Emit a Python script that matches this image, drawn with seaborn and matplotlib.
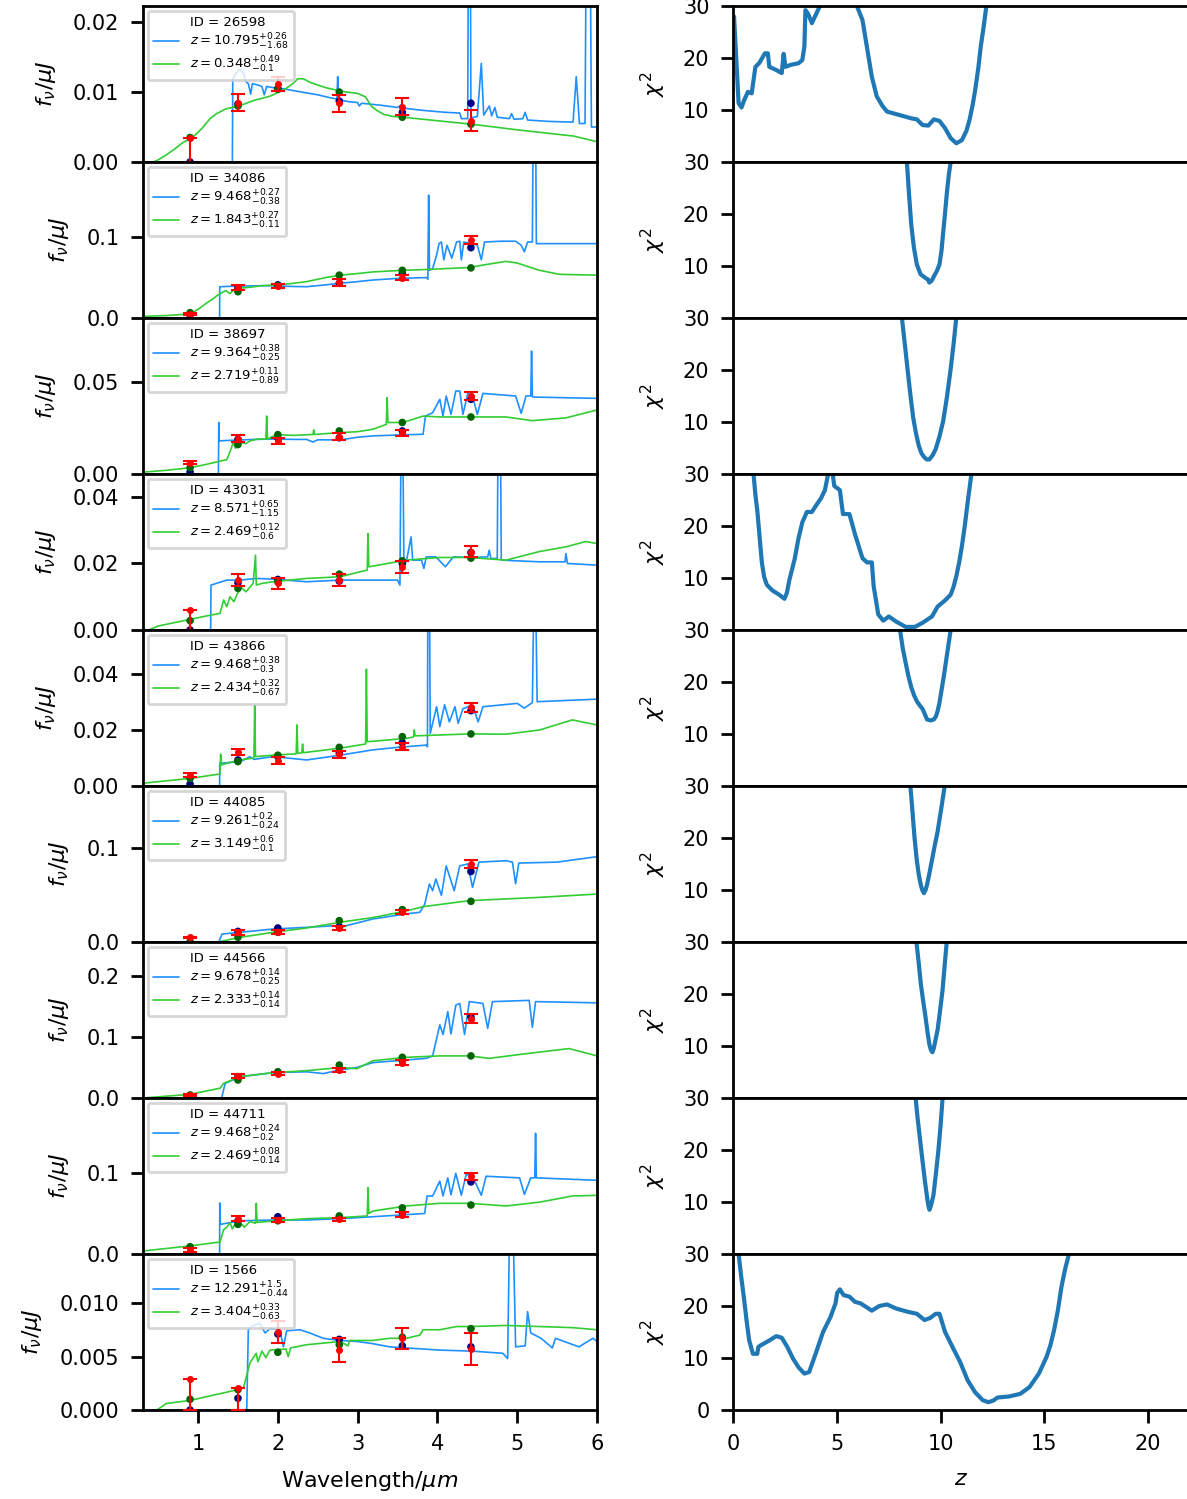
import matplotlib
matplotlib.use("Agg")
import matplotlib.pyplot as plt
import seaborn as sns
import pandas as pd
from matplotlib.lines import Line2D

# ---------------- data ----------------
IDS = ["26598", "34086", "38697", "43031", "43866", "44085", "44566", "44711", "1566"]
FILTER_WAVE = [0.90, 1.50, 2.00, 2.77, 3.56, 4.42]

Z_BLUE_LABEL = [r"$z=10.795^{+0.26}_{-1.68}$", r"$z=9.468^{+0.27}_{-0.38}$", r"$z=9.364^{+0.38}_{-0.25}$",
                r"$z=8.571^{+0.65}_{-1.15}$", r"$z=9.468^{+0.38}_{-0.3}$", r"$z=9.261^{+0.2}_{-0.24}$",
                r"$z=9.678^{+0.14}_{-0.25}$", r"$z=9.468^{+0.24}_{-0.2}$", r"$z=12.291^{+1.5}_{-0.44}$"]
Z_GREEN_LABEL = [r"$z=0.348^{+0.49}_{-0.1}$", r"$z=1.843^{+0.27}_{-0.11}$", r"$z=2.719^{+0.11}_{-0.89}$",
                 r"$z=2.469^{+0.12}_{-0.6}$", r"$z=2.434^{+0.32}_{-0.67}$", r"$z=3.149^{+0.6}_{-0.1}$",
                 r"$z=2.333^{+0.14}_{-0.14}$", r"$z=2.469^{+0.08}_{-0.14}$", r"$z=3.404^{+0.33}_{-0.63}$"]

YLIM_TOP = [0.0223, 0.193, 0.0848, 0.0469, 0.0557, 0.166, 0.2557, 0.1926, 0.01458]
YTICKS = [[0, 0.01, 0.02], [0, 0.1], [0, 0.05], [0, 0.02, 0.04], [0, 0.02, 0.04],
          [0, 0.1], [0, 0.1, 0.2], [0, 0.1], [0, 0.005, 0.010]]
YTICK_FMT = ["{:.2f}", "{:.1f}", "{:.2f}", "{:.2f}", "{:.2f}", "{:.1f}", "{:.1f}", "{:.1f}", "{:.3f}"]

# observed photometry (value, lower error, upper error), model photometry (blue / green fits)
OBS = [[0.0035, 0.0085, 0.0112, 0.0084, 0.0079, 0.0059],
       [0.005, 0.038, 0.0395, 0.044, 0.050, 0.097],
       [0.0062, 0.0192, 0.018, 0.0203, 0.0221, 0.0424],
       [0.006, 0.015, 0.014, 0.015, 0.019, 0.0236],
       [0.0039, 0.0121, 0.009, 0.0113, 0.014, 0.0281],
       [0.005, 0.0103, 0.011, 0.0149, 0.0316, 0.083],
       [0.005, 0.036, 0.040, 0.046, 0.058, 0.13],
       [0.005, 0.0436, 0.042, 0.0428, 0.0486, 0.096],
       [0.0029, 0.0021, 0.0073, 0.0056, 0.0067, 0.0057]]
ERR_LO = [[0.0035, 0.00125, 0.0010, 0.0012, 0.0012, 0.0015],
          [0.0015, 0.003, 0.003, 0.004, 0.003, 0.005],
          [0.0009, 0.0018, 0.0017, 0.0018, 0.0017, 0.0022],
          [0.006, 0.0018, 0.0017, 0.0017, 0.0018, 0.0016],
          [0.0006, 0.0012, 0.0012, 0.0012, 0.0013, 0.0015],
          [0.0008, 0.0025, 0.002, 0.002, 0.002, 0.0043],
          [0.002, 0.003, 0.003, 0.003, 0.004, 0.007],
          [0.002, 0.003, 0.002, 0.002, 0.003, 0.0045],
          [0.0029, 0.0021, 0.001, 0.0011, 0.001, 0.0015]]
ERR_HI = [[0.0, 0.00125, 0.0010, 0.0012, 0.0012, 0.0015],
          [0.0015, 0.003, 0.003, 0.004, 0.003, 0.005],
          [0.0009, 0.0018, 0.0017, 0.0018, 0.0017, 0.0022],
          [0.0, 0.0018, 0.0017, 0.0017, 0.0018, 0.0016],
          [0.0006, 0.0012, 0.0012, 0.0012, 0.0013, 0.0015],
          [0.0008, 0.0025, 0.002, 0.002, 0.002, 0.0043],
          [0.002, 0.003, 0.003, 0.003, 0.004, 0.007],
          [0.002, 0.003, 0.002, 0.002, 0.003, 0.0045],
          [0.0, 0.0, 0.001, 0.0011, 0.001, 0.0015]]
MOD_BLUE = [[0.0, 0.0083, 0.0105, 0.0087, 0.0071, 0.0084],
            [0.0, 0.037, 0.041, 0.043, 0.055, 0.087],
            [0.0011, 0.0188, 0.0196, 0.0197, 0.0234, 0.0406],
            [0.0, 0.0142, 0.0152, 0.0147, 0.020, 0.0233],
            [0.0007, 0.0093, 0.0105, 0.0117, 0.0155, 0.0269],
            [0.0, 0.0113, 0.0149, 0.0163, 0.034, 0.075],
            [0.0, 0.035, 0.0415, 0.047, 0.062, 0.133],
            [0.0, 0.041, 0.046, 0.0449, 0.051, 0.089],
            [0.0, 0.0011, 0.0071, 0.0066, 0.006, 0.0059]]
MOD_GREEN = [[0.0035, 0.0080, 0.0104, 0.0100, 0.0064, 0.0054],
             [0.0066, 0.0325, 0.040, 0.053, 0.059, 0.062],
             [0.0034, 0.016, 0.0214, 0.0234, 0.028, 0.031],
             [0.0028, 0.0125, 0.0145, 0.0168, 0.0208, 0.0216],
             [0.0027, 0.0087, 0.011, 0.0138, 0.0176, 0.0186],
             [0.0, 0.005, 0.0103, 0.0227, 0.0344, 0.0433],
             [0.005, 0.0295, 0.043, 0.054, 0.0667, 0.069],
             [0.009, 0.0366, 0.041, 0.047, 0.057, 0.0605],
             [0.001, 0.0019, 0.0054, 0.0061, 0.0068, 0.0076]]

# model spectra: (wavelength um, flux)
BLUE_26598 = [(0.31,0),(1.43,0),(1.435,0.0118),(1.47,0.0126),(1.52,0.0132),(1.57,0.0127),(1.6,0.0115),(1.63,0.0112),
              (1.66,0.0097),(1.68,0.0112),(1.75,0.0110),(1.80,0.0108),(1.83,0.0096),(1.86,0.0108),(1.95,0.0106),
              (2.05,0.0105),(2.2,0.0102),(2.35,0.0099),(2.5,0.0096),(2.65,0.0092),(2.74,0.0090),(2.75,0.0122),
              (2.76,0.0089),(2.9,0.0086),(3.0,0.0085),(3.02,0.0080),(3.05,0.0084),(3.3,0.0081),(3.5,0.0078),
              (3.55,0.0082),(3.57,0.0077),(3.8,0.0074),(4.1,0.0071),(4.28,0.0070),(4.3,0.0062),(4.38,0.0062),
              (4.39,0.04),(4.41,0.04),(4.42,0.0063),(4.5,0.0065),(4.55,0.0141),(4.58,0.0067),(4.65,0.0080),
              (4.68,0.0066),(4.72,0.0078),(4.75,0.0064),(4.9,0.0062),(4.93,0.0069),(4.96,0.0061),(5.07,0.0062),
              (5.1,0.0071),(5.13,0.0060),(5.4,0.0058),(5.7,0.0057),(5.74,0.0122),(5.78,0.0055),(5.85,0.0055),
              (5.87,0.04),(5.91,0.04),(5.93,0.0050),(6.0,0.0050)]
GREEN_26598 = [(0.44,0),(0.5,0.0003),(0.6,0.0010),(0.7,0.0018),(0.8,0.0027),(0.94,0.0036),(1.05,0.0048),(1.15,0.0062),
               (1.23,0.0069),(1.35,0.0076),(1.51,0.0080),(1.7,0.0088),(1.9,0.0094),(2.09,0.0104),(2.2,0.0113),
               (2.25,0.0119),(2.32,0.0119),(2.4,0.0114),(2.5,0.0110),(2.61,0.0106),(2.8,0.0101),(3.0,0.0098),
               (3.1,0.0093),(3.17,0.0080),(3.25,0.0073),(3.33,0.0068),(3.45,0.0065),(3.57,0.0064),(4.0,0.0059),
               (4.43,0.0054),(5.0,0.0046),(5.71,0.0037),(6.0,0.0029)]
BLUE_34086 = [(0.31,0),(1.27,0),(1.272,0.0387),(1.4,0.0392),(1.53,0.0395),(1.7,0.0398),(1.86,0.040),(2.0,0.0395),
              (2.2,0.039),(2.36,0.0387),(2.6,0.041),(2.78,0.043),(3.0,0.045),(3.19,0.047),(3.5,0.049),(3.86,0.050),
              (3.88,0.048),(3.89,0.152),(3.9,0.059),(3.94,0.061),(3.99,0.078),(4.02,0.092),(4.05,0.094),(4.08,0.072),
              (4.12,0.090),(4.18,0.074),(4.24,0.094),(4.28,0.095),(4.3,0.072),(4.33,0.094),(4.44,0.092),(4.5,0.090),
              (4.55,0.072),(4.59,0.094),(4.8,0.095),(4.98,0.095),(5.05,0.090),(5.09,0.082),(5.13,0.094),(5.19,0.094),
              (5.2,0.25),(5.23,0.25),(5.24,0.092),(5.5,0.092),(6.0,0.092)]
GREEN_34086 = [(0.31,0.002),(0.6,0.003),(0.9,0.005),(1.02,0.012),(1.1,0.018),(1.19,0.024),(1.27,0.030),(1.35,0.034),
               (1.4,0.030),(1.45,0.035),(1.53,0.037),(1.65,0.038),(1.8,0.040),(2.03,0.041),(2.2,0.043),(2.36,0.045),
               (2.6,0.050),(2.78,0.053),(3.0,0.055),(3.19,0.057),(3.57,0.059),(3.86,0.060),(4.4,0.0625),(4.6,0.066),
               (4.86,0.070),(5.0,0.068),(5.28,0.059),(5.53,0.054),(6.0,0.053)]
BLUE_38697 = [(0.31,0),(1.255,0),(1.26,0.028),(1.265,0.018),(1.35,0.0182),(1.53,0.0185),(1.7,0.0188),(1.94,0.019),
              (2.2,0.0188),(2.36,0.0188),(2.44,0.0174),(2.5,0.0186),(2.78,0.0185),(3.0,0.020),(3.19,0.0207),
              (3.5,0.0212),(3.82,0.0216),(3.85,0.0315),(3.94,0.0333),(4.03,0.0406),(4.07,0.0315),(4.11,0.0424),
              (4.17,0.0324),(4.23,0.0451),(4.28,0.0451),(4.32,0.0324),(4.38,0.0438),(4.44,0.0424),(4.50,0.0324),
              (4.57,0.0438),(4.98,0.0424),(5.05,0.033),(5.11,0.0424),(5.17,0.0424),(5.18,0.0668),(5.19,0.0420),
              (5.23,0.0418),(6.0,0.0411)]
GREEN_38697 = [(0.31,0.001),(0.6,0.002),(0.9,0.0034),(1.1,0.0052),(1.275,0.007),(1.36,0.0078),(1.40,0.012),(1.44,0.017),
               (1.47,0.014),(1.5,0.0174),(1.6,0.0165),(1.65,0.0180),(1.75,0.019),(1.85,0.019),(1.86,0.0315),(1.87,0.019),
               (1.98,0.0214),(2.2,0.021),(2.44,0.0215),(2.45,0.024),(2.46,0.0215),(2.78,0.0225),(3.0,0.023),
               (3.19,0.0243),(3.3,0.026),(3.36,0.027),(3.37,0.0415),(3.38,0.028),(3.57,0.028),(3.82,0.0315),
               (4.03,0.031),(4.4,0.031),(4.86,0.031),(5.19,0.029),(5.61,0.0305),(6.0,0.0348)]
BLUE_43031 = [(0.31,0),(1.158,0),(1.162,0.0135),(1.36,0.015),(1.53,0.015),(1.73,0.0155),(1.94,0.0153),(2.36,0.0145),
              (2.78,0.015),(3.2,0.015),(3.5,0.015),(3.53,0.0135),(3.545,0.06),(3.565,0.06),(3.58,0.020),(3.61,0.0205),
              (3.67,0.028),(3.69,0.021),(3.8,0.021),(3.83,0.0185),(3.86,0.022),(3.98,0.022),(4.1,0.019),(4.2,0.022),
              (4.44,0.0218),(4.63,0.022),(4.65,0.024),(4.67,0.0215),(4.75,0.0215),(4.76,0.06),(4.79,0.06),(4.8,0.021),
              (5.28,0.0205),(5.60,0.0205),(5.61,0.023),(5.63,0.020),(6.0,0.0195)]
GREEN_43031 = [(0.38,0.0),(0.5,0.0012),(0.9,0.0032),(1.1,0.0042),(1.275,0.005),(1.32,0.009),(1.36,0.007),(1.40,0.010),
               (1.45,0.0085),(1.53,0.013),(1.6,0.0115),(1.69,0.014),(1.72,0.0225),(1.73,0.0135),(1.8,0.014),
               (1.94,0.0145),(2.36,0.0155),(2.78,0.016),(3.03,0.0175),(3.12,0.018),(3.13,0.029),(3.14,0.019),
               (3.61,0.021),(4.03,0.0218),(4.4,0.0218),(4.86,0.021),(5.28,0.0236),(5.61,0.025),(5.86,0.0266),(6.0,0.026)]
BLUE_43866 = [(0.31,0),(1.27,0),(1.272,0.0081),(1.53,0.0087),(1.65,0.0105),(1.7,0.0095),(1.94,0.0105),(2.36,0.0093),
              (2.78,0.011),(3.19,0.0129),(3.5,0.0138),(3.86,0.0146),(3.875,0.014),(3.88,0.07),(3.90,0.07),(3.91,0.0188),
              (3.99,0.0283),(4.03,0.0212),(4.09,0.029),(4.15,0.0229),(4.22,0.0283),(4.26,0.0224),(4.32,0.0276),
              (4.44,0.0289),(4.51,0.0229),(4.57,0.0283),(5.0,0.0295),(5.09,0.0278),(5.19,0.0298),(5.21,0.07),
              (5.23,0.07),(5.25,0.0301),(6.0,0.031)]
GREEN_43866 = [(0.31,0.001),(0.9,0.0027),(1.275,0.0043),(1.283,0.0114),(1.29,0.0075),(1.36,0.0081),(1.53,0.0093),
               (1.70,0.010),(1.71,0.029),(1.72,0.0105),(1.94,0.011),(2.23,0.0115),(2.24,0.0218),(2.25,0.0117),
               (2.30,0.0118),(2.31,0.0150),(2.32,0.0119),(2.78,0.0135),(3.1,0.0150),(3.11,0.0417),(3.12,0.0158),
               (3.61,0.017),(3.70,0.0175),(3.71,0.020),(3.72,0.0179),(4.4,0.0186),(4.86,0.0185),(5.28,0.020),
               (5.69,0.0236),(6.0,0.0218)]
BLUE_44085 = [(0.31,0),(1.26,0),(1.3,0.0085),(1.53,0.0103),(1.94,0.0138),(2.36,0.0156),(2.73,0.0174),(2.78,0.0149),
              (2.86,0.0174),(3.19,0.0245),(3.61,0.030),(3.78,0.0316),(3.84,0.040),(3.9,0.0617),(3.94,0.0546),
              (3.98,0.0670),(4.05,0.0496),(4.11,0.081),(4.21,0.0546),(4.28,0.081),(4.38,0.083),(4.44,0.0581),
              (4.52,0.085),(4.86,0.0865),(4.94,0.085),(4.98,0.062),(5.02,0.0840),(5.5,0.085),(6.0,0.0908)]
GREEN_44085 = [(0.31,0),(1.25,0),(1.53,0.005),(1.94,0.0103),(2.36,0.0149),(2.78,0.021),(3.19,0.026),(3.61,0.033),
               (3.82,0.0376),(4.4,0.044),(5.28,0.0475),(6.0,0.051)]
BLUE_44566 = [(0.31,0),(1.295,0),(1.34,0.024),(1.53,0.035),(1.94,0.0415),(2.36,0.043),(2.57,0.040),(2.78,0.046),
              (2.99,0.050),(3.19,0.058),(3.86,0.065),(3.94,0.069),(4.03,0.12),(4.07,0.104),(4.13,0.1415),(4.17,0.105),
              (4.23,0.152),(4.28,0.155),(4.34,0.104),(4.40,0.158),(4.57,0.155),(4.63,0.114),(4.69,0.158),(5.15,0.16),
              (5.19,0.116),(5.23,0.158),(6.0,0.156)]
GREEN_44566 = [(0.31,0),(0.9,0.006),(1.275,0.016),(1.32,0.024),(1.53,0.035),(1.94,0.0415),(2.36,0.0448),(2.78,0.050),
               (2.99,0.048),(3.19,0.061),(3.61,0.0667),(4.03,0.069),(4.4,0.069),(4.65,0.065),(5.07,0.072),(5.65,0.081),
               (6.0,0.069)]
BLUE_44711 = [(0.31,0),(1.27,0),(1.272,0.063),(1.28,0.0366),(1.53,0.041),(1.94,0.042),(2.36,0.042),(2.78,0.0436),
              (3.19,0.046),(3.84,0.050),(3.87,0.0716),(3.94,0.0716),(4.03,0.090),(4.07,0.0716),(4.13,0.094),
              (4.17,0.073),(4.23,0.0996),(4.30,0.0725),(4.36,0.0984),(4.44,0.096),(4.55,0.0725),(4.61,0.096),
              (5.03,0.094),(5.09,0.0736),(5.17,0.094),(5.22,0.094),(5.23,0.149),(5.24,0.094),(6.0,0.091)]
GREEN_44711 = [(0.31,0.0037),(0.9,0.010),(1.275,0.0148),(1.32,0.030),(1.36,0.033),(1.40,0.0387),(1.43,0.031),
               (1.47,0.038),(1.53,0.0387),(1.58,0.033),(1.65,0.040),(1.72,0.038),(1.73,0.0626),(1.74,0.039),
               (1.94,0.0407),(2.36,0.0436),(2.78,0.0449),(3.12,0.047),(3.13,0.082),(3.14,0.050),(3.19,0.053),
               (3.61,0.0593),(4.03,0.0626),(4.4,0.0626),(4.86,0.0593),(5.28,0.064),(5.69,0.0716),(6.0,0.0724)]
BLUE_1566 = [(0.31,0),(1.61,0),(1.63,0.0075),(1.69,0.0079),(1.775,0.0081),(1.84,0.0072),(1.9,0.0076),(2.025,0.0075),
             (2.07,0.0059),(2.11,0.0074),(2.275,0.0075),(2.4,0.0072),(2.57,0.0067),(2.78,0.0065),(3.0,0.0064),
             (3.19,0.0062),(3.4,0.0059),(3.61,0.0058),(4.03,0.0056),(4.44,0.0055),(4.82,0.0053),(4.88,0.0048),
             (4.91,0.02),(4.94,0.02),(4.98,0.0059),(5.1,0.0060),(5.13,0.0092),(5.17,0.0072),(5.3,0.0067),
             (5.44,0.0058),(5.48,0.0067),(5.775,0.0059),(5.86,0.0063),(5.95,0.0067),(6.0,0.0064)]
GREEN_1566 = [(0.48,0),(0.525,0.0002),(0.6,0.0006),(0.9,0.0009),(1.32,0.0016),(1.49,0.0019),(1.57,0.0021),(1.65,0.0044),
              (1.73,0.0053),(1.75,0.0045),(1.8,0.0055),(1.85,0.0049),(1.9,0.0056),(2.1,0.0057),(2.13,0.0050),
              (2.16,0.0058),(2.36,0.0061),(2.78,0.0064),(2.88,0.0060),(2.9,0.0065),(3.19,0.0065),(3.4,0.0067),
              (3.61,0.0067),(3.78,0.0070),(3.82,0.0075),(4.03,0.0075),(4.24,0.0078),(4.4,0.0078),(4.86,0.0079),
              (5.28,0.0078),(5.69,0.0077),(6.0,0.0075)]

# chi^2 vs redshift curves: (z, chi2)
CHI_26598 = [(0.05,28),(0.27,11.3),(0.41,10.5),(0.54,11.9),(0.72,13.5),(0.90,13.2),(1.08,18.3),(1.26,19.0),(1.54,20.9),
             (1.68,20.9),(1.75,18.3),(2.08,17.7),(2.35,17.1),(2.44,20.8),(2.53,18.3),(2.80,18.7),(3.16,19.0),
             (3.34,19.6),(3.44,22.2),(3.49,29.2),(3.62,28.5),(3.80,26.7),(4.07,29.0),(4.25,30.5),(4.8,38),(5.5,38),
             (5.97,30.0),(6.24,27.3),(6.5,21.0),(6.69,16.4),(6.93,12.6),(7.2,10.8),(7.42,9.7),(8.05,9.0),(8.59,8.4),
             (8.86,8.2),(9.14,7.1),(9.41,7.0),(9.68,8.2),(9.95,7.9),(10.22,6.5),(10.49,4.6),(10.76,3.6),(11.03,4.2),
             (11.25,6.0),(11.40,8.1),(11.55,11.0),(11.67,13.8),(11.82,18.0),(11.94,22.2),(12.08,26.0),(12.21,30.0),(12.4,36)]
CHI_34086 = [(8.2,38),(8.38,30),(8.48,24.0),(8.59,18.0),(8.72,13.5),(8.86,10.3),(9.04,8.4),(9.31,7.6),(9.40,7.4),
             (9.46,6.8),(9.58,7.2),(9.68,8.0),(9.82,9.0),(9.95,10.3),(10.05,13.0),(10.13,16.5),(10.22,20.2),
             (10.31,24.2),(10.40,27.5),(10.49,30),(10.6,38)]
CHI_38697 = [(8.0,38),(8.14,30),(8.28,25.0),(8.41,20.2),(8.55,15.2),(8.68,10.9),(8.82,7.8),(8.95,5.5),(9.08,4.0),
             (9.22,3.2),(9.34,2.8),(9.46,2.8),(9.62,3.6),(9.77,4.8),(9.95,7.2),(10.13,10.2),(10.31,14.8),(10.49,20.2),
             (10.63,25.0),(10.76,30),(10.9,38)]
CHI_43031 = [(0.9,38),(0.99,30),(1.08,26.0),(1.17,23.0),(1.28,18.0),(1.39,13.0),(1.50,10.2),(1.63,8.7),(1.90,7.6),
             (2.22,6.8),(2.48,6.0),(2.60,7.2),(2.71,9.5),(2.98,13.8),(3.15,17.5),(3.34,20.7),(3.56,22.7),(3.80,22.7),
             (3.98,23.8),(4.25,25.4),(4.43,26.9),(4.61,30.5),(4.79,30.5),(4.88,27.7),(5.15,26.9),(5.30,22.3),
             (5.61,22.3),(5.88,18.4),(6.24,13.8),(6.46,13.0),(6.69,13.0),(6.78,8.4),(7.00,3.0),(7.24,1.8),(7.51,2.6),
             (7.87,1.6),(8.32,0.6),(8.77,0.6),(9.14,1.4),(9.59,2.6),(9.86,4.5),(10.22,5.7),(10.49,6.8),(10.62,8.2),
             (10.76,10.3),(10.90,13.0),(11.03,16.1),(11.17,20.0),(11.31,24.6),(11.49,30),(11.6,38)]
CHI_43866 = [(7.9,38),(8.05,30),(8.18,26.5),(8.32,23.7),(8.45,21.2),(8.59,19.0),(8.72,17.5),(8.86,16.3),(9.0,15.5),
             (9.14,14.8),(9.35,12.8),(9.52,12.6),(9.68,12.8),(9.78,13.4),(9.86,14.4),(9.95,16.0),(10.04,18.2),
             (10.18,21.6),(10.31,25.2),(10.49,30),(10.6,38)]
CHI_44085 = [(8.4,38),(8.55,30),(8.65,25),(8.75,20),(8.85,16),(8.95,13),(9.05,11.0),(9.12,10.0),(9.2,9.4),(9.28,10.0),
             (9.35,11),(9.47,13.3),(9.6,16),(9.72,18.5),(9.85,21),(9.95,23.5),(10.05,26),(10.2,30),(10.3,38)]
CHI_44566 = [(8.7,38),(8.84,30),(8.95,26),(9.05,22),(9.17,18.5),(9.28,15.5),(9.38,12.5),(9.47,10.2),(9.54,9.2),
             (9.61,8.8),(9.68,9.6),(9.76,11.2),(9.86,13.1),(9.97,16.5),(10.1,20.8),(10.2,25.5),(10.3,30),(10.4,38)]
CHI_44711 = [(8.6,38),(8.8,30),(8.9,26),(9.0,22.5),(9.13,18),(9.25,14.0),(9.37,10.4),(9.42,9.2),(9.47,8.5),(9.54,9.3),
             (9.66,11.3),(9.78,15.5),(9.9,20),(10.0,24.5),(10.1,30),(10.2,38)]
CHI_1566 = [(0.2,38),(0.27,30),(0.40,25.5),(0.54,21.1),(0.66,17.0),(0.78,13.4),(0.96,10.8),(1.17,10.8),(1.22,12.1),
            (1.32,12.4),(1.72,13.3),(2.08,14.2),(2.35,13.9),(2.62,12.1),(2.89,9.9),(3.16,8.2),(3.44,7.0),(3.67,7.3),
            (3.98,10.8),(4.34,15.0),(4.70,17.9),(4.94,20.5),(5.02,22.5),(5.15,23.2),(5.33,22.1),(5.61,21.8),
            (5.88,20.8),(6.15,20.5),(6.69,19.1),(7.05,20.0),(7.42,20.3),(7.87,19.5),(8.41,18.9),(8.86,18.5),
            (9.23,17.3),(9.50,17.7),(9.77,18.5),(9.95,18.5),(10.22,15.0),(10.58,12.1),(10.95,9.2),(11.31,5.7),
            (11.67,3.4),(12.03,1.9),(12.30,1.5),(12.54,1.8),(12.75,2.4),(13.30,2.6),(13.84,3.1),(14.29,4.4),
            (14.74,7.0),(15.11,10.2),(15.30,12.5),(15.47,15.3),(15.65,19.0),(15.83,23.7),(16.0,27.0),(16.19,30),(16.3,38)]

BLUE_SPEC = [BLUE_26598, BLUE_34086, BLUE_38697, BLUE_43031, BLUE_43866, BLUE_44085, BLUE_44566, BLUE_44711, BLUE_1566]
GREEN_SPEC = [GREEN_26598, GREEN_34086, GREEN_38697, GREEN_43031, GREEN_43866, GREEN_44085, GREEN_44566, GREEN_44711, GREEN_1566]
CHI2 = [CHI_26598, CHI_34086, CHI_38697, CHI_43031, CHI_43866, CHI_44085, CHI_44566, CHI_44711, CHI_1566]

# ---------------- style ----------------
sns.set_style("ticks")
plt.rcParams.update({
    "font.family": ["DejaVu Sans"],
    "axes.edgecolor": "black", "axes.linewidth": 2.0,
    "xtick.color": "black", "ytick.color": "black",
    "xtick.major.size": 9, "ytick.major.size": 9,
    "xtick.major.width": 2.0, "ytick.major.width": 2.0,
    "xtick.major.pad": 8, "ytick.major.pad": 8,
    "xtick.labelsize": 15, "ytick.labelsize": 15,
    "axes.labelsize": 16, "axes.labelpad": 11,
    "text.color": "black", "axes.labelcolor": "black",
})

W, H = 1187, 1499
fig = plt.figure(figsize=(W / 100, H / 100), dpi=100)
ROW_H = 156
TOP0 = 6

for i, gid in enumerate(IDS):
    top = TOP0 + ROW_H * i
    bottom = 1 - (top + ROW_H) / H
    axL = fig.add_axes([143 / W, bottom, 454 / W, ROW_H / H])
    axR = fig.add_axes([733 / W, bottom, 456.5 / W, ROW_H / H])

    bdf = pd.DataFrame(BLUE_SPEC[i], columns=["wave", "flux"])
    gdf = pd.DataFrame(GREEN_SPEC[i], columns=["wave", "flux"])
    sns.lineplot(data=bdf, x="wave", y="flux", ax=axL, color="dodgerblue", lw=1.2,
                 sort=False, estimator=None, legend=False)
    sns.lineplot(data=gdf, x="wave", y="flux", ax=axL, color="limegreen", lw=1.2,
                 sort=False, estimator=None, legend=False)
    sns.scatterplot(x=FILTER_WAVE, y=MOD_BLUE[i], ax=axL, color="navy", s=30, edgecolor="none", zorder=4)
    sns.scatterplot(x=FILTER_WAVE, y=MOD_GREEN[i], ax=axL, color="darkgreen", s=30, edgecolor="none", zorder=4)
    axL.errorbar(FILTER_WAVE, OBS[i], yerr=[ERR_LO[i], ERR_HI[i]], fmt="o", color="red", ms=4,
                 capsize=5, elinewidth=1.5, capthick=1.5, zorder=5)

    axL.set_xlim(0.31, 6.0)
    axL.set_ylim(0, YLIM_TOP[i])
    axL.set_yticks(YTICKS[i])
    axL.set_yticklabels([YTICK_FMT[i].format(v) for v in YTICKS[i]])
    axL.set_ylabel(r"$f_{\nu}/\mu J$")
    axL.set_xlabel("")

    handles = [Line2D([], [], color="none", label=f"ID = {gid}"),
               Line2D([], [], color="dodgerblue", lw=1.2, label=Z_BLUE_LABEL[i]),
               Line2D([], [], color="limegreen", lw=1.2, label=Z_GREEN_LABEL[i])]
    leg = axL.legend(handles=handles, loc="upper left", fontsize=9.5, frameon=True,
                     borderaxespad=0.35, handlelength=2.0, labelspacing=0.22, borderpad=0.4)
    leg.get_frame().set_edgecolor("0.8")
    leg.get_frame().set_linewidth(2.0)

    cdf = pd.DataFrame(CHI2[i], columns=["z", "chi2"])
    sns.lineplot(data=cdf, x="z", y="chi2", ax=axR, color="#1f77b4", lw=3,
                 sort=False, estimator=None, legend=False)
    axR.set_xlim(0, 22)
    axR.set_ylim(0, 30)
    axR.set_ylabel(r"$\chi^2$")
    axR.set_xlabel("")
    if i < len(IDS) - 1:
        axR.set_yticks([10, 20, 30])
        axL.tick_params(axis="x", bottom=False, labelbottom=False)
        axR.tick_params(axis="x", bottom=False, labelbottom=False)
    else:
        axR.set_yticks([0, 10, 20, 30])
        axL.set_xticks([1, 2, 3, 4, 5, 6])
        axR.set_xticks([0, 5, 10, 15, 20])
        axL.set_xlabel(r"Wavelength/$\mu m$")
        axR.set_xlabel(r"$z$")

fig.savefig("out.png", dpi=100)
